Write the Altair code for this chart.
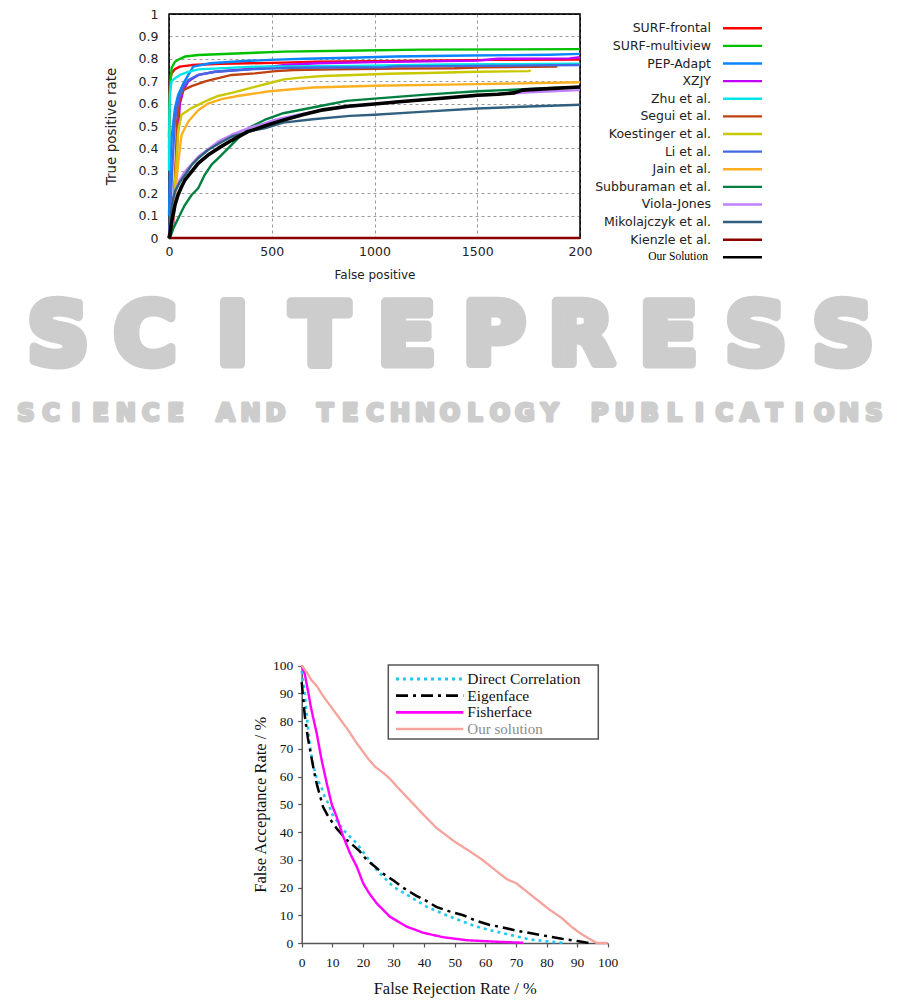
import altair as alt
import pandas as pd

# ---------------- top chart (ROC curves) ----------------
methods = ["SURF-frontal", "SURF-multiview", "PEP-Adapt", "XZJY", "Zhu et al.",
           "Segui et al.", "Koestinger et al.", "Li et al.", "Jain et al.",
           "Subburaman et al.", "Viola-Jones", "Mikolajczyk et al.",
           "Kienzle et al.", "Our Solution"]
method_colors = ["#ff0000", "#00c000", "#0a84ff", "#c000ff", "#00e5e5",
                 "#c04010", "#c8c800", "#4169e1", "#ffb020", "#008040",
                 "#c080ff", "#306080", "#8b0000", "#000000"]
method_widths = [2.4, 2.4, 2.4, 2.4, 2.4, 2.4, 2.4, 2.4, 2.2, 2.2, 2.2, 1.6, 2.4, 3.6]

surf_frontal_fp = [0, 2, 5, 13, 29, 53, 110, 250, 394, 557, 720, 1130, 1570, 2000]
surf_frontal_tpr = [0.45, 0.6, 0.70, 0.735, 0.754, 0.765, 0.772, 0.778, 0.78, 0.783, 0.787, 0.79, 0.795, 0.797]
surf_multi_fp = [0, 3, 5, 13, 29, 53, 78, 143, 418, 557, 850, 1225, 2000]
surf_multi_tpr = [0.4, 0.6, 0.675, 0.76, 0.787, 0.80, 0.81, 0.817, 0.827, 0.832, 0.836, 0.841, 0.843]
pep_fp = [0, 5, 13, 29, 45, 70, 118, 200, 362, 490, 660, 880, 1100, 1460, 1850, 2000]
pep_tpr = [0.1, 0.3, 0.45, 0.58, 0.64, 0.69, 0.765, 0.78, 0.79, 0.795, 0.80, 0.805, 0.81, 0.815, 0.818, 0.822]
xzjy_fp = [0, 20, 25, 29, 40, 53, 70, 94, 143, 224, 418, 555, 720, 1000, 1500, 1600, 1950, 2000]
xzjy_tpr = [0, 0.05, 0.12, 0.245, 0.42, 0.6, 0.66, 0.70, 0.728, 0.742, 0.757, 0.772, 0.78, 0.785, 0.792, 0.80, 0.802, 0.807]
zhu_fp = [0, 2, 5, 13, 29, 53, 94, 143, 418, 900, 1350, 2000]
zhu_tpr = [0.3, 0.55, 0.647, 0.70, 0.713, 0.728, 0.742, 0.753, 0.765, 0.768, 0.775, 0.778]
segui_fp = [0, 20, 33, 40, 53, 70, 110, 180, 305, 418, 520, 610, 800, 1110, 1390, 1530, 1890]
segui_tpr = [0, 0.1, 0.35, 0.527, 0.63, 0.66, 0.678, 0.70, 0.728, 0.735, 0.745, 0.75, 0.753, 0.757, 0.758, 0.762, 0.765]
koest_fp = [0, 10, 20, 29, 37, 45, 61, 110, 190, 239, 305, 418, 490, 560, 640, 750, 900, 1070, 1300, 1500, 1750, 1760]
koest_tpr = [0, 0.05, 0.1, 0.25, 0.35, 0.48, 0.55, 0.58, 0.616, 0.634, 0.648, 0.675, 0.692, 0.708, 0.716, 0.723, 0.728, 0.733, 0.738, 0.742, 0.745, 0.748]
li_fp = [0, 8, 18, 29, 45, 70, 94, 143, 224, 418, 600, 1050, 1100, 2000]
li_tpr = [0, 0.15, 0.35, 0.527, 0.616, 0.675, 0.705, 0.728, 0.742, 0.754, 0.76, 0.762, 0.766, 0.772]
jain_fp = [0, 15, 25, 33, 45, 61, 77, 94, 142, 190, 255, 335, 490, 700, 1000, 1500, 2000]
jain_tpr = [0, 0.03, 0.12, 0.22, 0.34, 0.46, 0.49, 0.52, 0.57, 0.6, 0.62, 0.634, 0.655, 0.672, 0.68, 0.687, 0.695]
subb_fp = [0, 5, 21, 45, 77, 110, 142, 174, 206, 255, 303, 352, 400, 465, 556, 718, 864, 1000, 1250, 1500, 1750, 2000]
subb_tpr = [0, 0, 0.043, 0.088, 0.147, 0.192, 0.222, 0.282, 0.326, 0.37, 0.415, 0.46, 0.497, 0.527, 0.557, 0.586, 0.612, 0.622, 0.64, 0.655, 0.665, 0.674]
viola_fp = [0, 5, 13, 29, 53, 77, 142, 239, 303, 384, 465, 513, 600, 750, 1000, 1250, 1500, 1750, 2000]
viola_tpr = [0, 0.05, 0.147, 0.21, 0.26, 0.296, 0.363, 0.43, 0.46, 0.49, 0.512, 0.527, 0.545, 0.572, 0.598, 0.618, 0.635, 0.65, 0.66]
miko_fp = [0, 5, 13, 29, 53, 77, 110, 142, 190, 239, 303, 384, 465, 556, 700, 880, 1000, 1205, 1500, 1750, 2000]
miko_tpr = [0, 0.05, 0.147, 0.207, 0.25, 0.28, 0.325, 0.356, 0.393, 0.42, 0.452, 0.475, 0.49, 0.515, 0.53, 0.545, 0.55, 0.562, 0.578, 0.587, 0.595]
kienzle_fp = [0, 2000]
kienzle_tpr = [0, 0]
ours_fp = [0, 5, 13, 29, 45, 61, 77, 110, 142, 190, 239, 303, 384, 465, 550, 650, 750, 870, 1000, 1120, 1240, 1370, 1500, 1600, 1680, 1720, 1850, 2000]
ours_tpr = [0, 0.02, 0.073, 0.147, 0.195, 0.229, 0.258, 0.296, 0.333, 0.37, 0.4, 0.435, 0.475, 0.5, 0.525, 0.55, 0.572, 0.588, 0.598, 0.608, 0.617, 0.627, 0.637, 0.642, 0.648, 0.66, 0.667, 0.674]

top_series = [
    ("SURF-frontal", surf_frontal_fp, surf_frontal_tpr),
    ("SURF-multiview", surf_multi_fp, surf_multi_tpr),
    ("PEP-Adapt", pep_fp, pep_tpr),
    ("XZJY", xzjy_fp, xzjy_tpr),
    ("Zhu et al.", zhu_fp, zhu_tpr),
    ("Segui et al.", segui_fp, segui_tpr),
    ("Koestinger et al.", koest_fp, koest_tpr),
    ("Li et al.", li_fp, li_tpr),
    ("Jain et al.", jain_fp, jain_tpr),
    ("Subburaman et al.", subb_fp, subb_tpr),
    ("Viola-Jones", viola_fp, viola_tpr),
    ("Mikolajczyk et al.", miko_fp, miko_tpr),
    ("Kienzle et al.", kienzle_fp, kienzle_tpr),
    ("Our Solution", ours_fp, ours_tpr),
]
x_ticks_top = [0, 500, 1000, 1500, 2000]
y_ticks_top = [0, 0.1, 0.2, 0.3, 0.4, 0.5, 0.6, 0.7, 0.8, 0.9, 1]

# ---------------- bottom chart (FAR / FRR) ----------------
algos = ["Direct Correlation", "Eigenface", "Fisherface", "Our solution"]
algo_colors = ["#22c8ee", "#000000", "#ff00ff", "#f5a39c"]
algo_dashes = [[3, 4], [12, 5, 3, 5], [1, 0], [1, 0]]
algo_widths = [2.6, 2.3, 2.2, 1.3]

dc_frr = [0, 1, 2, 3, 4, 5, 6.3, 7.4, 9, 9.8, 13.6, 18, 21.2, 24.5, 29.9, 35.4, 40.8, 48.4, 57.1, 65.8, 74.5, 81, 86]
dc_far = [98, 90, 78, 68.5, 63, 59, 56.6, 53, 49.6, 46.7, 40.7, 35.9, 31.1, 26.3, 20.3, 16.7, 13.1, 9.5, 5.9, 3.5, 1.3, 0.5, 0]
eig_frr = [0, 0.5, 1, 2, 3, 4, 5, 6, 7, 8.7, 11.4, 14.7, 17, 19, 21.2, 24, 26.6, 30, 33, 37.5, 41, 44, 48, 52.8, 57, 61.5, 65, 70, 75, 80, 85, 90, 93, 95]
eig_far = [94, 88, 82, 74, 68, 62, 57, 53, 49, 45.5, 41.3, 37.1, 35, 33, 30, 27.5, 25, 22.5, 20, 17, 15, 13, 11.5, 10, 8, 6.5, 5.8, 4.5, 3.5, 2.5, 1.5, 0.7, 0.2, 0]
fis_frr = [0, 1, 2.2, 3, 4, 4.9, 6.5, 8.2, 9.8, 11.4, 13.6, 15.8, 18, 20.1, 22, 24.5, 28.8, 34.3, 39.7, 46.2, 53.9, 64.7, 72.4]
fis_far = [100, 97, 90, 85, 80, 75.6, 66, 57.5, 50, 45.5, 38.3, 32.3, 27.5, 21.5, 18, 14.3, 9.5, 5.9, 3.7, 2.1, 1.0, 0.4, 0.1]
our_frr = [0, 1, 2, 3, 5, 7, 10, 13, 15, 18, 20, 22, 24, 27, 29, 31, 34, 37, 40, 44, 47, 50, 55, 59, 63, 67, 70, 73, 77, 81, 85, 88, 91, 94, 96.5, 100]
our_far = [100, 98.5, 97, 95, 92.5, 89, 84.5, 80, 77, 72, 69, 66, 63.5, 61, 59, 56.5, 53, 49.5, 46, 41.5, 39, 36.5, 33, 30, 26.5, 23, 21.6, 19, 15.5, 12, 9, 6, 3.5, 1.5, 0, 0]

bottom_series = [
    ("Direct Correlation", dc_frr, dc_far),
    ("Eigenface", eig_frr, eig_far),
    ("Fisherface", fis_frr, fis_far),
    ("Our solution", our_frr, our_far),
]
pct_ticks = [0, 10, 20, 30, 40, 50, 60, 70, 80, 90, 100]

# ---------------- watermark text ----------------
wm_title = "SCITEPRESS"
wm_subtitle = "SCIENCE AND TECHNOLOGY PUBLICATIONS"

# ---------------- tables ----------------
top_rows = []
for name, fps, tprs in top_series:
    for k, (f, t) in enumerate(zip(fps, tprs)):
        top_rows.append({"method": name, "fp": f, "tpr": t, "k": k})
top_df = pd.DataFrame(top_rows)
top_leg_df = pd.DataFrame({"method": methods})

bot_rows = []
for name, xs, ys in bottom_series:
    for k, (a, b) in enumerate(zip(xs, ys)):
        bot_rows.append({"algo": name, "frr": a, "far": b, "k": k})
bot_df = pd.DataFrame(bot_rows)
bot_leg_df = pd.DataFrame({"algo": algos})

wm1_df = pd.DataFrame({"i": list(range(len(wm_title))), "ch": list(wm_title)})
wm2_df = pd.DataFrame({"i": list(range(len(wm_subtitle))), "ch": list(wm_subtitle)})
one_row = pd.DataFrame({"b": [0]})

SANS = "DejaVu Sans"
SERIF = "Liberation Serif"
WM_GRAY = "#cdcdcd"

# ---------------- watermark layers ----------------
wm1 = alt.Chart(wm1_df).mark_text(
    font=SANS, fontWeight="bold", fontSize=85, color=WM_GRAY,
    stroke=WM_GRAY, strokeWidth=9, strokeJoin="round",
    baseline="alphabetic", align="center"
).encode(
    x=alt.X("i:O", axis=None,
            scale=alt.Scale(type="point", domain=list(range(len(wm_title))),
                            range=[-111, 674], padding=0)),
    y=alt.value(350),
    text="ch:N",
)
wm2 = alt.Chart(wm2_df).mark_text(
    font=SANS, fontWeight="bold", fontSize=24, color=WM_GRAY,
    stroke=WM_GRAY, strokeWidth=3, strokeJoin="round",
    baseline="alphabetic", align="center"
).encode(
    x=alt.X("i:O", axis=None,
            scale=alt.Scale(type="point", domain=list(range(len(wm_subtitle))),
                            range=[-143, 705], padding=0)),
    y=alt.value(407),
    text="ch:N",
)

# ---------------- top chart layers ----------------
top_x = alt.X(
    "fp:Q", scale=alt.Scale(domain=[0, 2000]),
    axis=alt.Axis(orient="bottom", values=x_ticks_top, title="False positive",
                  format="d",
                  labelExpr="datum.value == 2000 ? '200' : datum.label",
                  grid=True, gridDash=[3, 3], gridColor="#9a9a9a", gridWidth=1,
                  domain=False, ticks=False, tickSize=0, labelPadding=7,
                  labelFlush=False, labelOverlap=False,
                  labelFont=SANS, labelFontSize=12.5, labelColor="#222",
                  titleFont=SANS, titleFontSize=12, titleFontWeight="normal",
                  titleColor="#222", titlePadding=12),
)
top_y = alt.Y(
    "tpr:Q", scale=alt.Scale(domain=[0, 1]),
    axis=alt.Axis(orient="left", values=y_ticks_top, format=".1~f",
                  title="True positive rate",
                  grid=True, gridDash=[3, 3], gridColor="#9a9a9a", gridWidth=1,
                  domain=False, ticks=False, tickSize=0, labelPadding=11,
                  labelOverlap=False,
                  labelFont=SANS, labelFontSize=12.5, labelColor="#222",
                  titleFont=SANS, titleFontSize=13.5, titleFontWeight="normal",
                  titleColor="#222", titlePadding=20),
)
top_color = alt.Color("method:N", scale=alt.Scale(domain=methods, range=method_colors), legend=None)
top_width = alt.StrokeWidth("method:N", scale=alt.Scale(domain=methods, range=method_widths), legend=None)

top_frame = alt.Chart(one_row).mark_rect(
    fill=None, fillOpacity=0, stroke="#000000", strokeWidth=1.3
).encode(
    x=alt.value(0), x2=alt.value(411), y=alt.value(0), y2=alt.value(224),
)
top_lines = alt.Chart(top_df).transform_filter(
    alt.datum.method != "Our Solution"
).mark_line(strokeJoin="round").encode(
    x=top_x, y=top_y, color=top_color, strokeWidth=top_width, order="k:Q",
)
top_black = alt.Chart(top_df).transform_filter(
    alt.datum.method == "Our Solution"
).mark_line(strokeJoin="round", color="#000000", strokeWidth=3.6).encode(
    x=alt.X("fp:Q", scale=alt.Scale(domain=[0, 2000]), axis=None),
    y=alt.Y("tpr:Q", scale=alt.Scale(domain=[0, 1]), axis=None),
    order="k:Q",
)

leg_y = alt.Y("method:N", axis=None,
              scale=alt.Scale(type="point", domain=methods, range=[14.3, 243.3], padding=0))
top_leg_rules = alt.Chart(top_leg_df).mark_rule().encode(
    x=alt.value(554), x2=alt.value(593), y=leg_y,
    color=top_color, strokeWidth=top_width,
)
top_leg_text = alt.Chart(top_leg_df).transform_filter(
    alt.datum.method != "Our Solution"
).mark_text(font=SANS, fontSize=12.5, color="#222", align="right", baseline="middle").encode(
    x=alt.value(542), y=leg_y, text="method:N",
)
top_leg_text2 = alt.Chart(top_leg_df).transform_filter(
    alt.datum.method == "Our Solution"
).mark_text(font=SERIF, fontSize=11.5, color="#000", align="right", baseline="middle").encode(
    x=alt.value(539), y=leg_y, text="method:N",
)

# ---------------- bottom chart layers ----------------
bot_x = alt.X(
    "frr:Q", scale=alt.Scale(domain=[0, 100], range=[132.7, 438.7]),
    axis=alt.Axis(orient="bottom", offset=705, values=pct_ticks,
                  title="False Rejection Rate / %", grid=False,
                  domainColor="#555", domainWidth=1.5, tickColor="#555",
                  tickSize=4, tickWidth=1.2, labelPadding=8, labelFlush=False,
                  labelOverlap=False,
                  labelFont=SERIF, labelFontSize=13.5, labelColor="#111",
                  titleFont=SERIF, titleFontSize=16.5, titleFontWeight="normal",
                  titleColor="#111", titlePadding=12),
)
bot_y = alt.Y(
    "far:Q", scale=alt.Scale(domain=[0, 100], range=[929, 651.5]),
    axis=alt.Axis(orient="left", offset=-132.7, values=pct_ticks,
                  title="False Acceptance Rate / %", grid=False,
                  domainColor="#555", domainWidth=1.5, tickColor="#555",
                  tickSize=4, tickWidth=1.2, labelPadding=5, labelOverlap=False,
                  labelFont=SERIF, labelFontSize=13.5, labelColor="#111",
                  titleFont=SERIF, titleFontSize=16.5, titleFontWeight="normal",
                  titleColor="#111", titlePadding=4),
)
bot_color = alt.Color("algo:N", scale=alt.Scale(domain=algos, range=algo_colors), legend=None)
bot_dash = alt.StrokeDash("algo:N", scale=alt.Scale(domain=algos, range=algo_dashes), legend=None)
bot_width = alt.StrokeWidth("algo:N", scale=alt.Scale(domain=algos, range=algo_widths), legend=None)

bot_lines = alt.Chart(bot_df).mark_line().encode(
    x=bot_x, y=bot_y, color=bot_color, strokeDash=bot_dash,
    strokeWidth=bot_width, order="k:Q",
)
bot_box = alt.Chart(one_row).mark_rect(
    fill="white", stroke="#555", strokeWidth=1.5
).encode(
    x=alt.value(219.3), x2=alt.value(429.3), y=alt.value(651), y2=alt.value(725),
)
bot_leg_y = alt.Y("algo:N", axis=None,
                  scale=alt.Scale(type="point", domain=algos, range=[665, 715], padding=0))
bot_leg_rules = alt.Chart(bot_leg_df).mark_rule().encode(
    x=alt.value(227), x2=alt.value(294.3), y=bot_leg_y,
    color=bot_color, strokeDash=bot_dash,
    strokeWidth=alt.StrokeWidth("algo:N", scale=alt.Scale(domain=algos, range=[3, 2.6, 2.2, 2.6]), legend=None),
)
bot_leg_text = alt.Chart(bot_leg_df).transform_filter(
    alt.datum.algo != "Our solution"
).mark_text(font=SERIF, fontSize=15.5, color="#111", align="left", baseline="middle").encode(
    x=alt.value(298.3), y=bot_leg_y, text="algo:N",
)
bot_leg_text2 = alt.Chart(bot_leg_df).transform_filter(
    alt.datum.algo == "Our solution"
).mark_text(font=SERIF, fontSize=15, color="#8c8c8c", align="left", baseline="middle").encode(
    x=alt.value(298.3), y=bot_leg_y, text="algo:N",
)

chart = alt.layer(
    wm1, wm2,
    top_frame, top_lines, top_black, top_leg_rules, top_leg_text, top_leg_text2,
    bot_lines, bot_box, bot_leg_rules, bot_leg_text, bot_leg_text2,
).resolve_scale(
    x="independent", y="independent", color="independent",
    strokeDash="independent", strokeWidth="independent",
).resolve_axis(
    x="independent", y="independent",
).properties(
    width=411, height=224,
    autosize=alt.AutoSizeParams(type="none"),
    padding={"left": 161, "top": 6, "right": 313, "bottom": 764},
).configure(
    background="white",
).configure_view(
    stroke="black", strokeWidth=1.2,
)

chart.save("out.html", embed_options={"renderer": "svg", "actions": False})
